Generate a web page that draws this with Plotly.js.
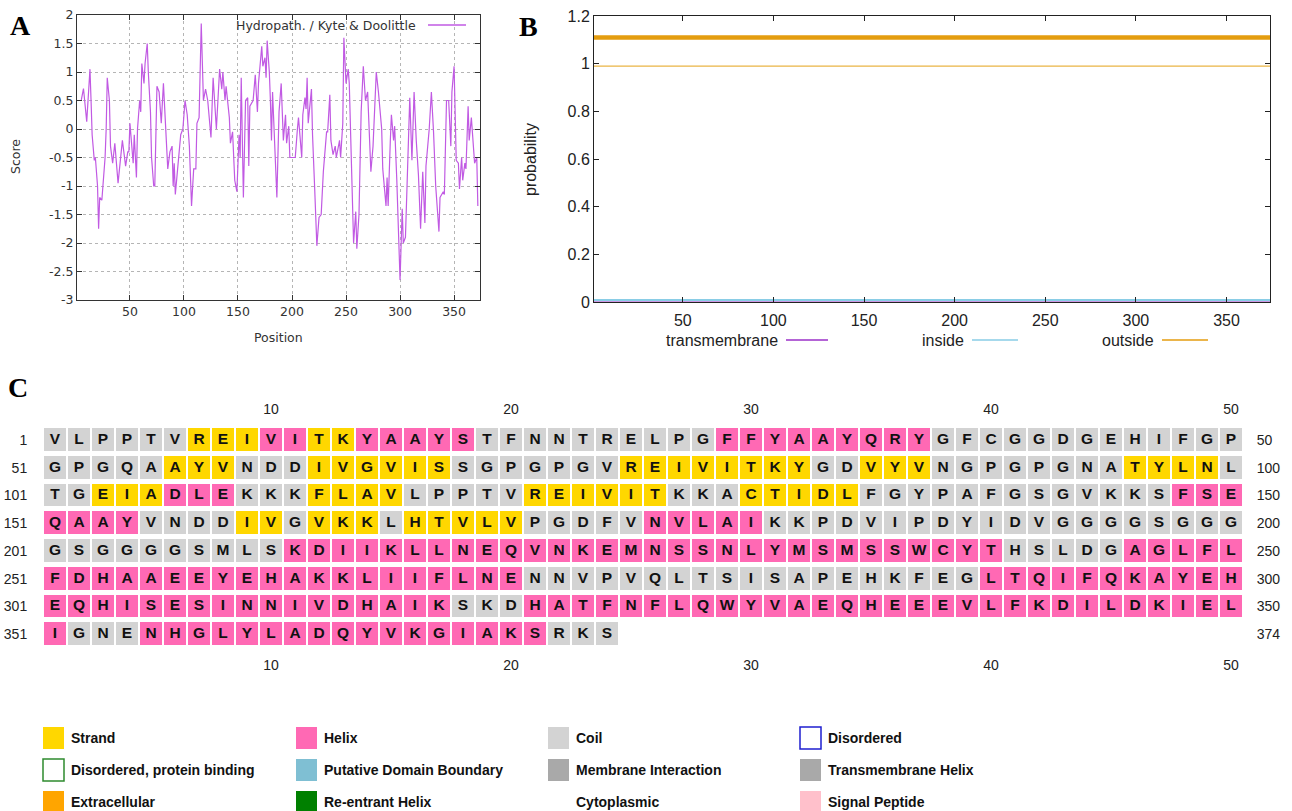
<!DOCTYPE html>
<html><head><meta charset="utf-8">
<script src="https://cdn.plot.ly/plotly-3.0.1.min.js"></script>
<style>html,body{margin:0;padding:0;background:#fff}#chart{width:1292px;height:811px}</style>
</head><body><div id="chart"></div>
<script>
const W = 1292, H = 811;
const px = x => x / W, py = y => 1 - y / H;

// ---------- Panel A: Kyte & Doolittle hydropathy ----------
const hydPos = [5,7,10,13,14,15,17,18,20,21,22,24,25,27,28,29,31,32,34,36,39,41,43,46,48,49,50,53,54,56,57,59,60,61,63,64,66,67,69,70,72,73,74,75,77,79,81,83,85,87,89,90,91,92,95,97,99,101,103,105,107,109,111,112,114,115,116,118,120,122,125,127,130,133,135,136,138,139,142,143,145,147,149,151,152,153,155,157,159,160,161,164,166,168,169,172,173,175,176,177,179,180,181,182,184,186,188,190,192,194,195,197,198,203,205,206,209,210,212,213,214,215,218,219,221,222,223,225,227,229,232,233,235,236,238,240,241,244,245,247,248,250,252,253,255,256,257,259,260,262,263,264,266,268,270,272,273,275,277,278,280,283,284,287,288,289,291,292,294,295,297,299,300,302,303,305,307,309,311,313,315,317,319,321,323,324,327,329,331,333,336,337,340,341,343,345,347,348,350,352,354,355,357,358,360,361,363,364,366,368,369,371,372];
const hydScore = [0.51,0.71,0.13,1.05,0.5,-0.1,-0.55,-0.5,-1.0,-1.75,-1.2,-1.25,-1.0,-0.5,0.0,0.9,0.5,-0.3,-0.6,-0.25,-0.95,-0.55,-0.2,-0.65,-0.4,-0.4,0.1,-0.6,-0.1,-0.85,0.0,0.5,0.3,1.15,0.8,1.15,1.5,1.0,0.3,-0.5,-1.0,-1.0,0.0,0.75,0.65,0.1,0.8,0.0,-0.7,-0.4,-0.3,-1.0,-0.6,-1.15,-0.5,-0.1,0.0,0.5,0.25,-0.3,-1.35,-0.7,-0.7,0.1,0.2,0.9,1.85,0.5,0.7,0.5,-0.15,0.9,0.0,1.05,0.7,1.0,0.5,0.75,0.2,-0.25,-0.05,-0.9,-1.1,-0.1,-0.5,0.9,-1.2,0.5,0.55,-0.65,0.4,0.5,0.95,0.3,0.8,1.45,1.1,1.25,0.9,1.55,1.0,0.5,-0.2,0.65,-0.3,-1.2,0.3,0.8,-0.2,0.25,-0.25,0.05,-0.5,-0.5,0.0,0.2,-0.5,0.25,0.55,0.35,0.9,0.1,0.7,-0.1,-1.05,-1.5,-2.05,-1.55,-1.5,-0.75,-0.05,-0.05,0.6,-0.2,-0.45,-0.3,-0.5,-0.2,-0.5,0.1,1.6,0.8,1.05,0.8,-0.5,-1.45,-2.0,-1.45,-2.1,-1.5,-0.5,0.3,1.1,0.5,0.65,-0.2,-0.75,-0.3,0.8,1.0,0.65,0.0,-0.7,-1.35,-0.85,-1.35,-0.2,0.25,-0.2,0.05,-0.9,-2.4,-2.65,-1.4,-2.0,-1.9,-0.8,0.55,-0.55,0.65,-0.2,-0.8,-1.75,-0.75,-1.65,-0.65,0.0,0.65,-0.05,-1.0,-1.8,-1.2,-1.1,-1.15,0.5,0.5,-0.3,0.65,1.1,-0.55,-0.6,-1.05,-0.5,-0.9,-0.6,-0.7,0.4,-0.2,0.2,-0.3,-0.6,-0.5,-1.35];
const hydXTicks = [50,100,150,200,250,300,350];
const hydYTicks = [-3,-2.5,-2,-1.5,-1,-0.5,0,0.5,1,1.5,2];
const hydYLabels = ['-3','-2.5','-2','-1.5','-1','-0.5','0','0.5','1','1.5','2'];

// ---------- Panel B: TMHMM posterior probabilities ----------
const tmPos = [1, 374];
const tmTransmembrane = [0, 0];
const tmInside = [0.008, 0.008];
const tmOutside = [0.99, 0.99];
const tmOutsideRegion = [1.11, 1.11];
const tmXTicks = [50,100,150,200,250,300,350];
const tmYTicks = [0,0.2,0.4,0.6,0.8,1,1.2];
const tmYLabels = ['0','0.2','0.4','0.6','0.8','1','1.2'];

// ---------- Panel C: sequence with secondary structure ----------
const seqRows = [
  "VLPPTVREIVITKYAAYSTFNNTRELPGFFYAAYQRYGFCGGDGEHIFGP",
  "GPGQAAYVNDDIVGVISSGPGPGVREIVITKYGDVYVNGPGPGNATYLNL",
  "TGEIADLEKKKFLAVLPPTVREIVITKKACTIDLFGYPAFGSGVKKSFSE",
  "QAAYVNDDIVGVKKLHTVLVPGDFVNVLAIKKPDVIPDYIDVGGGGSGGG",
  "GSGGGGSMLSKDIIKLLNEQVNKEMNSSNLYMSMSSWCYTHSLDGAGLFL",
  "FDHAAEEYEHAKKLIIFLNENNVPVQLTSISAPEHKFEGLTQIFQKAYEH",
  "EQHISESINNIVDHAIKSKDHATFNFLQWYVAEQHEEEVLFKDILDKIEL",
  "IGNENHGLYLADQYVKGIAKSRKS"
];
// runs of [state, length]: C = coil, E = strand, H = helix
const ssRuns = [
  [['C',6],['E',3],['H',2],['E',2],['H',5],['C',10],['H',9],['C',13]],
  [['C',5],['E',3],['C',3],['E',6],['C',7],['E',8],['C',2],['E',3],['C',8],['E',4],['C',1]],
  [['C',2],['E',3],['H',3],['C',3],['E',4],['C',5],['E',6],['C',3],['E',5],['C',13],['H',3]],
  [['H',4],['C',4],['E',2],['C',1],['E',3],['C',1],['E',5],['C',5],['H',5],['C',20]],
  [['C',10],['H',30],['C',5],['H',5]],
  [['H',20],['C',19],['H',11]],
  [['H',17],['C',3],['H',30]],
  [['H',1],['C',3],['H',17],['C',3]]
];
const rowStartLabels = ['1','51','101','151','201','251','301','351'];
const rowEndLabels = ['50','100','150','200','250','300','350','374'];
const colTicks = [10,20,30,40,50];
const ssCode = {C:0, E:1, H:2};
const ssColors = ['#d3d3d3','#ffd700','#ff69b4'];

// ---------- Legend of panel C ----------
const legendLabels = [
  ['Strand','Helix','Coil','Disordered'],
  ['Disordered, protein binding','Putative Domain Boundary','Membrane Interaction','Transmembrane Helix'],
  ['Extracellular','Re-entrant Helix','Cytoplasmic','Signal Peptide']
];
const legendFill = [
  ['#ffd700','#ff69b4','#d3d3d3','#ffffff'],
  ['#ffffff','#7fbfd3','#a9a9a9','#a9a9a9'],
  ['#ffa500','#008000',null,'#ffc0cb']
];
const legendBorder = [
  [null,null,null,'#1f1fd0'],
  ['#2e8b2e',null,null,null],
  [null,null,null,null]
];

// ---------- build heatmap matrix ----------
const z = [], letX = [], letY = [], letT = [];
seqRows.forEach((s, r) => {
  const states = [];
  ssRuns[r].forEach(([k, n]) => { for (let i = 0; i < n; i++) states.push(ssCode[k]); });
  const row = [];
  for (let c = 0; c < 50; c++) {
    if (c < s.length) {
      row.push(states[c]);
      letX.push(c + 1); letY.push(r + 1); letT.push(s[c]);
    } else row.push(null);
  }
  z.push(row);
});
const cols = Array.from({length: 50}, (_, i) => i + 1);
const rows = seqRows.map((_, i) => i + 1);

const fontA = {family: 'DejaVu Sans, sans-serif', size: 12.5, color: '#333'};
const fontB = {family: 'Liberation Sans, Arial, sans-serif', size: 16, color: '#222'};
const fontC = {family: 'Liberation Sans, Arial, sans-serif', size: 14, color: '#222'};

const traces = [
  {type: 'scatter', mode: 'lines', x: hydPos, y: hydScore, xaxis: 'x', yaxis: 'y',
   line: {color: '#c15ae3', width: 1.2}, hoverinfo: 'skip', showlegend: false},
  {type: 'scatter', mode: 'lines', x: tmPos, y: tmOutsideRegion, xaxis: 'x2', yaxis: 'y2',
   line: {color: '#e49d0f', width: 4.5}, showlegend: false},
  {type: 'scatter', mode: 'lines', x: tmPos, y: tmOutside, xaxis: 'x2', yaxis: 'y2',
   line: {color: '#eab445', width: 1.2}, showlegend: false},
  {type: 'scatter', mode: 'lines', x: tmPos, y: tmTransmembrane, xaxis: 'x2', yaxis: 'y2',
   line: {color: '#9b30c8', width: 1.2}, showlegend: false},
  {type: 'scatter', mode: 'lines', x: tmPos, y: tmInside, xaxis: 'x2', yaxis: 'y2',
   line: {color: '#89cde6', width: 2}, showlegend: false},
  {type: 'heatmap', x: cols, y: rows, z: z, xaxis: 'x3', yaxis: 'y3', zmin: 0, zmax: 2,
   colorscale: [[0, ssColors[0]], [0.3333, ssColors[0]], [0.3334, ssColors[1]], [0.6666, ssColors[1]], [0.6667, ssColors[2]], [1, ssColors[2]]],
   xgap: 2, ygap: 5, showscale: false, hoverinfo: 'skip'},
  {type: 'scatter', mode: 'text', x: letX, y: letY, text: letT, xaxis: 'x3', yaxis: 'y3',
   textfont: {family: 'Liberation Sans, Arial, sans-serif', size: 15.5, color: '#111', weight: 'bold'},
   hoverinfo: 'skip', showlegend: false},
  {type: 'scatter', mode: 'markers', x: [1], y: [1], xaxis: 'x4', yaxis: 'y4',
   marker: {opacity: 0}, hoverinfo: 'skip', showlegend: false}
];

const axA = {showline: true, linecolor: '#333', linewidth: 1, mirror: 'ticks', ticks: 'inside', ticklen: 5,
  tickcolor: '#333', zeroline: false, showgrid: true, gridcolor: '#b5b5b5', griddash: 'dot', gridwidth: 1,
  tickfont: fontA, automargin: false, fixedrange: true};
const axB = {showline: true, linecolor: '#222', linewidth: 1, mirror: 'ticks', ticks: 'inside', ticklen: 5,
  tickcolor: '#222', zeroline: false, showgrid: false, tickfont: fontB, automargin: false, fixedrange: true};
const axC = {showline: false, showgrid: false, zeroline: false, automargin: false, fixedrange: true,
  tickfont: fontC, ticks: 'outside', tickcolor: 'rgba(0,0,0,0)'};

const layout = {
  width: W, height: H, margin: {l: 0, r: 0, t: 0, b: 0}, paper_bgcolor: '#fff', plot_bgcolor: '#fff',
  showlegend: false,
  xaxis: Object.assign({}, axA, {domain: [px(77), px(480)], range: [1, 374], tickvals: hydXTicks, anchor: 'y'}),
  yaxis: Object.assign({}, axA, {domain: [py(300), py(15)], range: [-3, 2], tickvals: hydYTicks, ticktext: hydYLabels, anchor: 'x'}),
  xaxis2: Object.assign({}, axB, {domain: [px(594), px(1270)], range: [1, 374], tickvals: tmXTicks, anchor: 'y2', ticklabelstandoff: 4}),
  yaxis2: Object.assign({}, axB, {domain: [py(302), py(16)], range: [0, 1.2], tickvals: tmYTicks, ticktext: tmYLabels, anchor: 'x2'}),
  xaxis3: Object.assign({}, axC, {domain: [px(43), px(1243)], range: [0.5, 50.5], tickvals: colTicks, anchor: 'y3', side: 'bottom', ticklen: 4}),
  yaxis3: Object.assign({}, axC, {domain: [py(648), py(426)], range: [8.5, 0.5], tickvals: rows, ticktext: rowStartLabels, anchor: 'x3', ticklen: 12}),
  xaxis4: Object.assign({}, axC, {range: [0.5, 50.5], tickvals: colTicks, overlaying: 'x3', side: 'top', anchor: 'y3', ticklen: 5}),
  yaxis4: Object.assign({}, axC, {range: [8.5, 0.5], tickvals: rows, ticktext: rowEndLabels, overlaying: 'y3', side: 'right', anchor: 'x3', ticklen: 10}),
  annotations: [],
  shapes: []
};

const ann = (x, y, text, font, xanchor = 'center', extra = {}) => layout.annotations.push(Object.assign(
  {xref: 'paper', yref: 'paper', x: px(x), y: py(y), text, font, xanchor, yanchor: 'middle', showarrow: false}, extra));
const hline = (x0, x1, y, color, width) => layout.shapes.push(
  {type: 'line', xref: 'paper', yref: 'paper', x0: px(x0), x1: px(x1), y0: py(y), y1: py(y), line: {color, width}});

// panel letters
const letterFont = {family: 'Liberation Serif, Times New Roman, serif', size: 28, color: '#000', weight: 'bold'};
ann(20, 25, '<b>A</b>', letterFont);
ann(528, 27, '<b>B</b>', letterFont);
ann(18, 387, '<b>C</b>', letterFont);

// panel A titles and key
ann(278, 337, 'Position', fontA);
ann(16, 157, 'Score', fontA, 'center', {textangle: -90});
ann(418, 25, 'Hydropath. / Kyte &amp; Doolittle', fontA, 'right');
hline(428, 466, 25, '#c15ae3', 1.5);

// panel B titles and key
ann(531, 160, 'probability', fontB, 'center', {textangle: -90});
ann(780, 340, 'transmembrane', fontB, 'right');
hline(786, 828, 340, '#9b30c8', 1.5);
ann(966, 340, 'inside', fontB, 'right');
hline(972, 1018, 340, '#89cde6', 1.5);
ann(1156, 340, 'outside', fontB, 'right');
hline(1162, 1208, 340, '#e49d0f', 1.5);

// panel C legend
const legX = [43, 296, 548, 800], legY = [738, 770, 802];
const legFont = {family: 'Liberation Sans, Arial, sans-serif', size: 14, color: '#111', weight: 'bold'};
legendLabels.forEach((rowL, r) => rowL.forEach((lab, c) => {
  const fill = legendFill[r][c], border = legendBorder[r][c];
  if (fill) layout.shapes.push({type: 'rect', xref: 'paper', yref: 'paper',
    x0: px(legX[c]), x1: px(legX[c] + 21), y0: py(legY[r] + 11), y1: py(legY[r] - 11),
    fillcolor: fill, line: {color: border || fill, width: border ? 1.5 : 0}});
  ann(legX[c] + 26, legY[r], '<b>' + lab + '</b>', legFont, 'left');
}));

Plotly.newPlot('chart', traces, layout, {staticPlot: true, displayModeBar: false});
</script>
</body></html>
